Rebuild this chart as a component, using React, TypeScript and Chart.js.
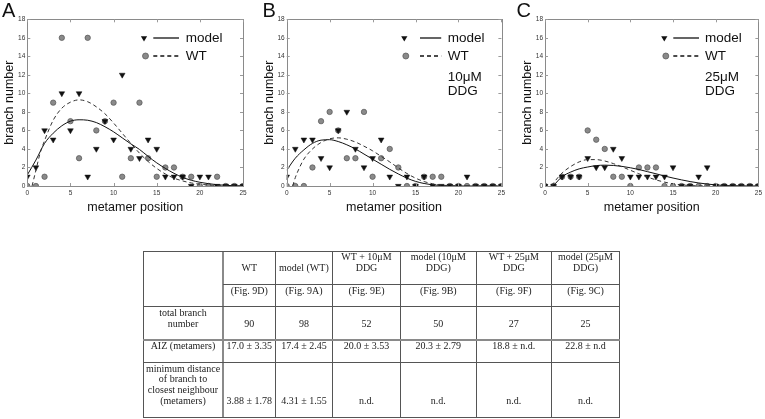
import React, { useEffect, useRef } from 'react';
import { Chart, registerables } from 'chart.js';

Chart.register(...registerables);
Chart.defaults.font.family = '"Liberation Sans", Arial, sans-serif';

// ---------- DATA ----------
const positions = [0, 1, 2, 3, 4, 5, 6, 7, 8, 9, 10, 11, 12, 13, 14, 15, 16, 17, 18, 19, 20, 21, 22, 23, 24, 25];

// Panel A
const aModel = [1, 2, 6, 5, 10, 6, 10, 1, 4, 7, 5, 12, 4, 3, 5, 4, 1, 1, 1, 0, 1, 1, 0, 0, 0, 0];
const aWT = [0, 0, 1, 9, 16, 7, 3, 16, 6, 7, 9, 1, 3, 9, 3, 1, 2, 2, 1, 1, 0, 0, 1, 0, 0, 0];
const aFitModelX = [0, 1, 2, 3, 4, 5, 6, 7, 8, 9, 10, 11, 12, 13, 14, 15, 16, 17, 18, 19, 20, 21, 22, 23, 24, 25];
const aFitModelY = [1.2, 2.8, 4.6, 5.7, 6.5, 7.0, 7.15, 7.1, 6.85, 6.4, 5.85, 5.2, 4.55, 3.95, 3.2, 2.5, 1.9, 1.37, 0.93, 0.62, 0.4, 0.25, 0.14, 0.07, 0.03, 0.01];
const aFitWTX = [0.55, 1, 1.5, 2, 3, 4, 5, 6, 7, 8, 9, 10, 11, 12, 13, 14, 15, 16, 17, 18, 19, 20, 21, 22, 23, 25];
const aFitWTY = [0, 1.7, 3.6, 4.9, 7.1, 8.4, 9.05, 9.3, 9.1, 8.55, 7.8, 6.8, 5.7, 4.6, 3.55, 2.65, 1.9, 1.3, 0.85, 0.55, 0.33, 0.2, 0.11, 0.05, 0.02, 0];

// Panel B
const bModel = [1, 4, 5, 5, 3, 2, 6, 8, 4, 2, 3, 5, 1, 0, 1, 0, 1, 0, 0, 0, 0, 1, 0, 0, 0, 0];
const bWT = [0, 0, 0, 2, 7, 8, 6, 3, 3, 8, 1, 3, 4, 2, 0, 0, 1, 1, 1, 0, 0, 0, 0, 0, 0, 0];
const bFitModelX = [0, 1, 2, 3, 4, 5, 6, 7, 8, 9, 10, 11, 12, 13, 14, 15, 16, 17, 18, 19, 20, 25];
const bFitModelY = [1.7, 3.0, 3.9, 4.6, 4.95, 5.0, 4.8, 4.45, 4.0, 3.45, 2.9, 2.35, 1.8, 1.3, 0.85, 0.5, 0.27, 0.12, 0.05, 0.02, 0, 0];
const bFitWTX = [0.7, 1, 1.5, 2, 3, 4, 5, 6, 7, 8, 9, 10, 11, 12, 13, 14, 15, 16, 17, 18, 19, 20, 25];
const bFitWTY = [0, 0.9, 2.0, 2.9, 4.0, 4.7, 5.1, 5.2, 5.05, 4.75, 4.3, 3.8, 3.2, 2.6, 1.95, 1.35, 0.85, 0.48, 0.24, 0.1, 0.04, 0.01, 0];

// Panel C
const cModel = [0, 0, 1, 1, 1, 3, 2, 2, 4, 3, 1, 1, 1, 1, 1, 2, 0, 0, 1, 2, 0, 0, 0, 0, 0, 0];
const cWT = [0, 0, 1, 1, 1, 6, 5, 4, 1, 1, 0, 2, 2, 2, 0, 0, 0, 0, 0, 0, 0, 0, 0, 0, 0, 0];
const cFitModelX = [1, 2, 3, 4, 5, 6, 7, 8, 9, 10, 11, 12, 13, 14, 15, 16, 17, 18, 19, 20, 21, 22, 25];
const cFitModelY = [0.05, 1.0, 1.5, 1.85, 2.05, 2.2, 2.25, 2.22, 2.12, 1.97, 1.78, 1.55, 1.32, 1.08, 0.86, 0.66, 0.48, 0.33, 0.21, 0.12, 0.06, 0.02, 0];
const cFitWTX = [0.8, 1, 1.5, 2, 3, 4, 5, 6, 7, 8, 9, 10, 11, 12, 13, 14, 15, 16, 17, 18, 25];
const cFitWTY = [0, 0.3, 0.9, 1.4, 2.1, 2.6, 2.85, 2.85, 2.7, 2.42, 2.08, 1.7, 1.32, 0.97, 0.66, 0.42, 0.24, 0.12, 0.05, 0.02, 0];

const xTicks = [0, 5, 10, 15, 20, 25];
const yTicks = [0, 2, 4, 6, 8, 10, 12, 14, 16, 18];

// Table
const tableHeader = ['WT', 'model (WT)', 'WT + 10μM\nDDG', 'model (10μM\nDDG)', 'WT + 25μM\nDDG', 'model (25μM\nDDG)'];
const tableFigRefs = ['(Fig. 9D)', '(Fig. 9A)', '(Fig. 9E)', '(Fig. 9B)', '(Fig. 9F)', '(Fig. 9C)'];
const totalBranch = ['90', '98', '52', '50', '27', '25'];
const aizValues = ['17.0 ± 3.35', '17.4 ± 2.45', '20.0 ± 3.53', '20.3 ± 2.79', '18.8 ± n.d.', '22.8 ± n.d'];
const minDistance = ['3.88 ± 1.78', '4.31 ± 1.55', 'n.d.', 'n.d.', 'n.d.', 'n.d.'];
const rowLabels = ['', '', 'total branch\nnumber', 'AIZ (metamers)', 'minimum distance\nof branch to\nclosest neighbour\n(metamers)'];

// ---------- LAYOUT ----------
const CANVAS_H = 220;
const PLOT_TOP = 19.3;
const PLOT_BOTTOM = 186;

type Panel = {
  letter: string; letterX: number;
  canvasLeft: number; canvasWidth: number; plotLeft: number; plotRight: number; yTitleX: number;
  model: number[]; wt: number[];
  fmX: number[]; fmY: number[]; fwX: number[]; fwY: number[];
  extra: string[];
  leg: { tri: number; l1: number; l2: number; text: number };
};

const panels: Panel[] = [
  { letter: 'A', letterX: 2, canvasLeft: 0, canvasWidth: 255, plotLeft: 27.3, plotRight: 243, yTitleX: 10,
    model: aModel, wt: aWT, fmX: aFitModelX, fmY: aFitModelY, fwX: aFitWTX, fwY: aFitWTY, extra: [],
    leg: { tri: 116.7, l1: 126, l2: 151.7, text: 158.4 } },
  { letter: 'B', letterX: 12.5, canvasLeft: 250, canvasWidth: 258, plotLeft: 286.7, plotRight: 502, yTitleX: 270,
    model: bModel, wt: bWT, fmX: bFitModelX, fmY: bFitModelY, fwX: bFitWTX, fwY: bFitWTY, extra: ['10μM', 'DDG'],
    leg: { tri: 117.6, l1: 133.3, l2: 154.5, text: 161 } },
  { letter: 'C', letterX: 11.5, canvasLeft: 505, canvasWidth: 260, plotLeft: 545, plotRight: 761, yTitleX: 528,
    model: cModel, wt: cWT, fmX: cFitModelX, fmY: cFitModelY, fwX: cFitWTX, fwY: cFitWTY, extra: ['25μM', 'DDG'],
    leg: { tri: 119.3, l1: 128.3, l2: 154, text: 160 } },
];

function drawTriangle(ctx: CanvasRenderingContext2D, x: number, y: number, r: number) {
  ctx.beginPath();
  ctx.moveTo(x - r * 0.866, y - r * 0.5);
  ctx.lineTo(x + r * 0.866, y - r * 0.5);
  ctx.lineTo(x, y + r);
  ctx.closePath();
  ctx.fill();
}

function decorPlugin(p: Panel) {
  return {
    id: 'decor' + p.letter,
    afterDraw(chart: any) {
      const ctx: CanvasRenderingContext2D = chart.ctx;
      const { left, right, top, bottom } = chart.chartArea;
      const xs = chart.scales.x;
      const ys = chart.scales.y;
      ctx.save();
      // frame
      ctx.strokeStyle = '#8a8a8a';
      ctx.lineWidth = 1;
      ctx.strokeRect(Math.round(left) + 0.5, Math.round(top) + 0.5, Math.round(right - left), Math.round(bottom - top));
      // inward ticks
      ctx.strokeStyle = '#9a9a9a';
      ctx.beginPath();
      xTicks.forEach((v) => {
        const px = Math.round(xs.getPixelForValue(v)) + 0.5;
        ctx.moveTo(px, bottom); ctx.lineTo(px, bottom - 3);
        ctx.moveTo(px, top); ctx.lineTo(px, top + 3);
      });
      yTicks.forEach((v) => {
        const py = Math.round(ys.getPixelForValue(v)) + 0.5;
        ctx.moveTo(left, py); ctx.lineTo(left + 3, py);
        ctx.moveTo(right, py); ctx.lineTo(right - 3, py);
      });
      ctx.stroke();
      // panel letter
      ctx.fillStyle = '#111';
      ctx.font = '20px "Liberation Sans", Arial, sans-serif';
      ctx.textBaseline = 'alphabetic';
      ctx.textAlign = 'left';
      ctx.fillText(p.letter, p.letterX, 17);
      // legend
      const y1 = 38, y2 = 56;
      ctx.fillStyle = '#111';
      drawTriangle(ctx, left + p.leg.tri, y1, 3.6);
      ctx.beginPath();
      ctx.arc(left + p.leg.tri + 1.5, y2, 3, 0, Math.PI * 2);
      ctx.fillStyle = '#8a8a8a';
      ctx.fill();
      ctx.strokeStyle = '#555';
      ctx.lineWidth = 0.7;
      ctx.stroke();
      ctx.strokeStyle = '#111';
      ctx.lineWidth = 1.3;
      ctx.beginPath();
      ctx.moveTo(left + p.leg.l1, y1); ctx.lineTo(left + p.leg.l2, y1);
      ctx.stroke();
      ctx.setLineDash([4, 3]);
      ctx.beginPath();
      ctx.moveTo(left + p.leg.l1, y2); ctx.lineTo(left + p.leg.l2, y2);
      ctx.stroke();
      ctx.setLineDash([]);
      ctx.fillStyle = '#111';
      ctx.font = '13.5px "Liberation Sans", Arial, sans-serif';
      ctx.textBaseline = 'middle';
      ctx.fillText('model', left + p.leg.text, y1);
      ctx.fillText('WT', left + p.leg.text, y2);
      p.extra.forEach((t, i) => ctx.fillText(t, left + p.leg.text, 77.5 + i * 13.5));
      ctx.restore();
    },
  };
}

function makeConfig(p: Panel): any {
  const pts = (vals: number[]) => positions.map((x, i) => ({ x, y: vals[i] }));
  const curve = (xs: number[], ys: number[]) => xs.map((x, i) => ({ x, y: ys[i] }));
  const tickFont = { size: 6.5, family: '"Liberation Sans", Arial, sans-serif' };
  const titleFont = { size: 12.5, family: '"Liberation Sans", Arial, sans-serif' };
  return {
    type: 'scatter',
    data: {
      datasets: [
        { label: 'model', data: pts(p.model), pointStyle: 'triangle', rotation: 180, pointRadius: 3.3,
          backgroundColor: '#111', borderColor: '#111', borderWidth: 0.5, clip: 0, order: 2 },
        { label: 'WT', data: pts(p.wt), pointStyle: 'circle', pointRadius: 2.7,
          backgroundColor: '#8a8a8a', borderColor: '#555', borderWidth: 0.7, clip: 0, order: 3 },
        { label: 'model fit', data: curve(p.fmX, p.fmY), showLine: true, pointRadius: 0, borderColor: '#111',
          borderWidth: 1, cubicInterpolationMode: 'monotone', fill: false, clip: 0, order: 1 },
        { label: 'WT fit', data: curve(p.fwX, p.fwY), showLine: true, pointRadius: 0, borderColor: '#333',
          borderWidth: 1, borderDash: [4, 3], cubicInterpolationMode: 'monotone', fill: false, clip: 0, order: 0 },
      ],
    },
    options: {
      responsive: false,
      animation: false,
      events: [],
      layout: { padding: { top: PLOT_TOP, right: p.canvasLeft + p.canvasWidth - p.plotRight, left: 0, bottom: 0 } },
      plugins: { legend: { display: false }, tooltip: { enabled: false } },
      scales: {
        x: {
          type: 'linear', min: 0, max: 25,
          ticks: { stepSize: 5, padding: 3, font: tickFont, color: '#333', maxRotation: 0 },
          grid: { display: false, drawTicks: false },
          border: { display: false },
          title: { display: true, text: 'metamer position', font: titleFont, color: '#111', padding: { top: 0, bottom: 5 } },
          afterFit: (s: any) => { s.height = CANVAS_H - PLOT_BOTTOM; },
        },
        y: {
          type: 'linear', min: 0, max: 18,
          ticks: { stepSize: 2, padding: 2, font: tickFont, color: '#333' },
          grid: { display: false, drawTicks: false },
          border: { display: false },
          title: { display: true, text: 'branch number', font: titleFont, color: '#111',
            padding: { top: p.yTitleX - p.canvasLeft - 7.5, bottom: 0 } },
          afterFit: (s: any) => { s.width = p.plotLeft - p.canvasLeft; },
        },
      },
    },
    plugins: [decorPlugin(p)],
  };
}

function PanelChart({ p }: { p: Panel }) {
  const ref = useRef<HTMLCanvasElement>(null);
  useEffect(() => {
    if (!ref.current) return;
    const chart = new Chart(ref.current, makeConfig(p));
    return () => chart.destroy();
  }, [p]);
  return (
    <canvas ref={ref} width={p.canvasWidth} height={CANVAS_H}
      style={{ position: 'absolute', left: p.canvasLeft, top: 0, width: p.canvasWidth, height: CANVAS_H }} />
  );
}

// ---------- TABLE ----------
const colEdges = [143, 223, 275.5, 332.3, 400.7, 476, 551.7, 619.3];
const rowEdges = [251, 284.3, 306, 340, 362.3, 417];

function DataTable() {
  const rows: string[][] = [tableHeader, tableFigRefs, totalBranch, aizValues, minDistance];
  const rowAlign = [
    { j: 'flex-end', pt: 0, pb: 10.6 },
    { j: 'flex-start', pt: 2, pb: 0 },
    { j: 'flex-end', pt: 0, pb: 10.3 },
    { j: 'flex-start', pt: 0.5, pb: 0 },
    { j: 'flex-end', pt: 0, pb: 10.6 },
  ];
  const cells: React.ReactNode[] = [];
  rows.forEach((row, r) => {
    const all = [rowLabels[r], ...row];
    all.forEach((text, c) => {
      if (!text) return;
      const a = rowAlign[r];
      cells.push(
        <div key={r + '-' + c} style={{
          position: 'absolute', left: colEdges[c], top: rowEdges[r],
          width: colEdges[c + 1] - colEdges[c], height: rowEdges[r + 1] - rowEdges[r],
          display: 'flex', flexDirection: 'column', justifyContent: a.j, alignItems: 'center',
          paddingTop: a.pt, paddingBottom: a.pb, boxSizing: 'border-box',
          whiteSpace: 'pre-line', textAlign: 'center',
        }}>{text}</div>
      );
    });
  });
  const lines: React.ReactNode[] = [];
  const lineColor = '#555';
  colEdges.forEach((x, i) => {
    const thick = i === 1;
    lines.push(<div key={'v' + i} style={{ position: 'absolute', left: x - (thick ? 1 : 0.5), top: rowEdges[0],
      width: thick ? 2 : 1, height: rowEdges[rowEdges.length - 1] - rowEdges[0],
      background: thick ? '#8a8a8a' : lineColor }} />);
  });
  rowEdges.forEach((y, i) => {
    const x0 = i === 1 ? colEdges[1] : colEdges[0];
    const thick = i === 3;
    lines.push(<div key={'h' + i} style={{ position: 'absolute', left: x0 - 0.5, top: y - (thick ? 1 : 0.5),
      width: colEdges[colEdges.length - 1] - x0 + 1, height: thick ? 2 : 1,
      background: thick ? '#8a8a8a' : lineColor }} />);
  });
  return (
    <div style={{ position: 'absolute', left: 0, top: 0, width: 765, height: 419,
      fontFamily: '"Liberation Serif", "Times New Roman", serif', fontSize: 10, lineHeight: '10.7px', color: '#222' }}>
      {cells}
      {lines}
    </div>
  );
}

export default function App() {
  return (
    <div style={{ position: 'absolute', left: 0, top: 0, width: 765, height: 419, overflow: 'hidden', background: '#fff' }}>
      {panels.map((p) => <PanelChart key={p.letter} p={p} />)}
      <DataTable />
    </div>
  );
}
